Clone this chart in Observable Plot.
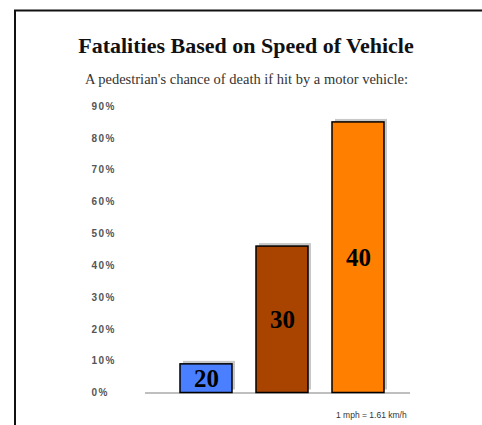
<!DOCTYPE html>
<html><head><meta charset="utf-8">
<script src="https://cdn.jsdelivr.net/npm/d3@7"></script>
<script src="https://cdn.jsdelivr.net/npm/@observablehq/plot@0.6"></script>
<style>
body{margin:0;background:#fff;}
#wrap{position:relative;width:482px;height:425px;overflow:hidden;background:#fff;}
#wrap > svg{position:absolute;left:0;top:0;}
[aria-label="y-axis tick label"]{letter-spacing:1.5px;}
</style></head><body>
<div id="wrap"></div>
<script>
const speeds = ["20", "30", "40"];
const fatality = [0.09, 0.46, 0.85];
const barColors = ["#4a80ff", "#a94400", "#ff7f00"];
const yTicks = [0, 0.1, 0.2, 0.3, 0.4, 0.5, 0.6, 0.7, 0.8, 0.9];
const titleText = "Fatalities Based on Speed of Vehicle";
const subtitleText = "A pedestrian's chance of death if hit by a motor vehicle:";
const noteText = "1 mph = 1.61 km/h";

const data = speeds.map((s, i) => ({speed: s, value: fatality[i], color: barColors[i]}));

const chart = Plot.plot({
  width: 482, height: 425,
  marginLeft: 145, marginRight: 72, marginTop: 106, marginBottom: 32.5,
  style: {background: "transparent", overflow: "visible"},
  x: {domain: speeds, paddingInner: 0.31, paddingOuter: 0.387, align: 0.574, axis: null},
  y: {domain: [0, 0.9], label: null, axis: null},
  marks: [
    Plot.axisY({ticks: yTicks, tickFormat: d3.format(".0%"), tickSize: 0, textAnchor: "start", dx: -45,
      fontSize: 10, fontWeight: "bold", fill: "#555", fontFamily: "Liberation Sans, Arial, sans-serif", label: null}),
    Plot.barY(data, {x: "speed", y: "value", fill: "#c8c8c8", dx: 3, dy: -3}),
    Plot.ruleY([0], {stroke: "#aaa", strokeWidth: 1.5}),
    Plot.barY(data, {x: "speed", y: "value", fill: d => d.color, stroke: "#000", strokeWidth: 1.5}),
    Plot.text(data, {x: "speed", y: d => d.value / 2, text: "speed", fontSize: 25, fontWeight: "bold",
      fontFamily: "Liberation Serif, Times New Roman, serif", fill: "#000"})
  ]
});
const wrap = document.getElementById("wrap");
wrap.appendChild(chart);

const ns = "http://www.w3.org/2000/svg";
const ov = document.createElementNS(ns, "svg");
ov.setAttribute("width", 482); ov.setAttribute("height", 425);
ov.style.pointerEvents = "none";
ov.innerHTML = `
  <line x1="15" y1="10" x2="15" y2="425" stroke="#111" stroke-width="2"/>
  <line x1="14" y1="10.5" x2="482" y2="10.5" stroke="#111" stroke-width="2"/>
  <text x="246" y="53" text-anchor="middle" font-family="Liberation Serif, Times New Roman, serif" font-weight="bold" font-size="22" fill="#111"></text>
  <text x="246.5" y="84" text-anchor="middle" font-family="Liberation Serif, Times New Roman, serif" font-size="14.5" fill="#333"></text>
  <text x="336" y="418" font-family="Liberation Sans, Arial, sans-serif" font-size="8.5" fill="#333"></text>
`;
const texts = ov.querySelectorAll("text");
texts[0].textContent = titleText;
texts[1].textContent = subtitleText;
texts[2].textContent = noteText;
wrap.appendChild(ov);
</script>
</body></html>
